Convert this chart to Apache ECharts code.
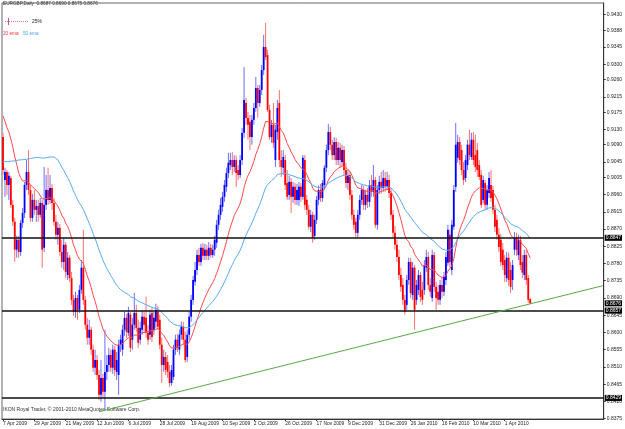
<!DOCTYPE html>
<html><head><meta charset="utf-8">
<script src="https://cdn.jsdelivr.net/npm/echarts@6/dist/echarts.min.js"></script>
<style>html,body{margin:0;padding:0;background:#fff}#c{width:625px;height:429px}</style>
</head><body><div id="c"></div>
<script>
// ---- data (prices in pips: 8847 => 0.8847) ----
const xTickLabels = ['7 Apr 2009','29 Apr 2009','21 May 2009','12 Jun 2009','6 Jul 2009','28 Jul 2009','19 Aug 2009','10 Sep 2009','2 Oct 2009','26 Oct 2009','17 Nov 2009','9 Dec 2009','31 Dec 2009','26 Jan 2010','16 Feb 2010','10 Mar 2010','1 Apr 2010'];
const yTickValues = [0.8375,0.8420,0.8465,0.8510,0.8555,0.8600,0.8645,0.8690,0.8735,0.8780,0.8825,0.8870,0.8915,0.8960,0.9005,0.9045,0.9090,0.9130,0.9175,0.9215,0.9260,0.9300,0.9345,0.9388,0.9430];

const openPips = [
9110,8998,9019,8985,9003,8933,8889,8816,8842,8810,
8886,8912,8985,9019,8972,8899,8946,8920,8930,8907,
8938,8821,8933,8972,8946,8977,8938,8889,8855,8873,
8810,8784,8829,8750,8795,8742,8685,8654,8690,8659,
8711,8769,8685,8620,8586,8607,8555,8508,8528,8489,
8437,8481,8445,8497,8515,8541,8508,8555,8497,8489,
8568,8555,8607,8638,8599,8646,8581,8620,8651,8612,
8581,8607,8641,8638,8599,8594,8651,8607,8628,8654,
8633,8568,8515,8536,8523,8497,8468,8484,8555,8581,
8555,8594,8615,8581,8536,8594,8641,8685,8732,8763,
8802,8784,8821,8800,8816,8800,8821,8802,8816,8834,
8881,8907,8928,8954,8980,9016,9037,9050,9032,9050,
9024,9011,9050,9121,9199,9160,9150,9110,9155,9186,
9238,9199,9233,9285,9345,9324,9181,9110,9142,9050,
9123,9199,9050,9030,9050,8990,8959,8993,8954,8980,
8946,8946,8980,8954,9050,8946,8920,8876,8907,8852,
8894,8946,8972,8951,8985,9030,9076,9123,9090,9063,
9097,9050,9082,9045,9076,9024,8990,9011,8959,8907,
8889,8860,8907,8946,8972,8933,8959,8941,8985,8967,
8998,8881,8972,8993,8977,9003,8980,8998,8964,8907,
8860,8829,8797,8750,8724,8685,8672,8737,8784,8698,
8769,8685,8711,8750,8711,8711,8769,8797,8724,8690,
8802,8719,8706,8685,8724,8706,8737,8782,8855,8763,
8876,8980,9056,9097,9076,9024,9003,9037,9090,9058,
9103,9063,9076,9037,9011,8946,8990,8933,8964,8985,
8972,8920,8894,8855,8842,8816,8789,8742,8795,8763,
8737,8816,8847,8802,8842,8784,8750,8802,8742,8687];

const closePips = [
9024,9019,8985,9009,8933,8889,8816,8842,8810,8886,
8912,8985,9019,8972,8899,8946,8920,8930,8907,8938,
8816,8933,8972,8946,8977,8938,8889,8855,8873,8810,
8784,8829,8758,8795,8742,8685,8654,8690,8659,8711,
8769,8685,8620,8586,8607,8555,8508,8528,8489,8437,
8481,8445,8497,8515,8541,8508,8555,8502,8528,8568,
8581,8607,8638,8602,8651,8560,8620,8651,8612,8573,
8612,8641,8620,8599,8581,8646,8588,8638,8659,8615,
8568,8515,8536,8502,8497,8468,8502,8555,8581,8560,
8594,8615,8581,8528,8594,8641,8685,8737,8763,8802,
8784,8821,8800,8816,8800,8821,8802,8816,8842,8881,
8907,8933,8954,8985,9016,9043,9050,9032,9050,9016,
9011,9050,9121,9207,9160,9142,9110,9155,9186,9238,
9199,9233,9285,9345,9319,9181,9110,9142,9095,9129,
9186,9050,9032,9058,8985,8954,8993,8954,8980,8946,
8972,8980,8954,9056,8933,8920,8876,8907,8847,8894,
8946,8972,8951,8990,9030,9076,9123,9090,9063,9097,
9050,9082,9050,9076,9024,8990,9011,8959,8907,8881,
8860,8907,8946,8972,8933,8959,8941,8985,8967,8998,
8881,8972,8993,8977,9003,8980,8998,8964,8907,8860,
8829,8797,8750,8719,8685,8654,8737,8784,8703,8769,
8659,8724,8750,8693,8685,8776,8797,8724,8706,8802,
8719,8690,8685,8724,8706,8745,8797,8868,8784,8881,
8972,9090,9097,9050,9024,8998,9050,9090,9063,9103,
9050,9032,9024,9006,8933,8998,8933,8972,9003,8951,
8920,8876,8855,8823,8784,8776,8750,8795,8737,8719,
8776,8849,8816,8842,8776,8756,8802,8737,8685,8676];

const highPips = [
9121,9030,9024,9019,9009,8946,8899,8852,8852,8894,
8925,8993,9050,9076,8985,8962,8972,8946,8946,8951,
8946,9032,9011,9030,9011,8988,8951,8907,8889,8883,
8842,8847,8836,8810,8802,8758,8698,8706,8698,8724,
8789,8868,8695,8638,8633,8615,8568,8555,8541,8502,
8528,8492,8607,8541,8560,8555,8568,8565,8549,8581,
8594,8620,8654,8648,8667,8654,8638,8703,8672,8633,
8628,8659,8654,8693,8620,8659,8664,8654,8675,8669,
8646,8586,8555,8549,8541,8515,8515,8568,8594,8596,
8607,8628,8628,8602,8607,8654,8698,8748,8784,8816,
8821,8831,8834,8831,8829,8836,8831,8829,8852,8894,
8920,8951,8967,8998,9030,9069,9069,9071,9063,9061,
9037,9063,9134,9293,9212,9176,9168,9168,9199,9267,
9246,9246,9298,9377,9408,9338,9194,9155,9199,9142,
9207,9233,9076,9076,9063,9024,9009,9003,8993,8990,
8988,8993,8990,9063,9063,8959,8933,8920,8915,8907,
8956,8983,8988,8998,9037,9090,9144,9137,9103,9110,
9108,9097,9095,9090,9087,9043,9024,9019,8972,8920,
8899,8920,8959,8985,8983,8972,8977,8998,9011,9037,
9006,8985,9009,9019,9024,9019,9019,9011,8977,8920,
8878,8842,8816,8769,8742,8698,8750,8795,8795,8784,
8776,8737,8763,8758,8732,8789,8816,8810,8742,8816,
8810,8732,8724,8737,8742,8758,8810,8881,8868,8894,
8985,9147,9116,9110,9090,9045,9063,9103,9129,9121,
9123,9116,9095,9050,9024,9009,8998,8985,9019,9024,
8983,8933,8907,8873,8857,8834,8802,8810,8808,8784,
8789,8862,8860,8855,8852,8802,8816,8816,8750,8690];

const lowPips = [
9011,8954,8959,8946,8925,8878,8784,8795,8795,8800,
8873,8899,8972,8959,8889,8889,8907,8889,8889,8899,
8769,8810,8920,8933,8936,8920,8878,8842,8829,8800,
8769,8763,8742,8737,8732,8672,8643,8638,8633,8651,
8701,8672,8607,8568,8568,8541,8497,8489,8476,8424,
8419,8429,8398,8476,8497,8497,8492,8487,8476,8437,
8549,8539,8591,8586,8591,8549,8555,8607,8602,8560,
8568,8594,8602,8586,8568,8581,8575,8594,8612,8607,
8555,8468,8497,8489,8481,8458,8461,8476,8541,8549,
8541,8581,8568,8521,8523,8581,8628,8672,8722,8750,
8774,8774,8789,8789,8789,8789,8795,8795,8800,8821,
8868,8894,8915,8941,8967,9003,9024,9011,9019,8980,
8998,9003,9037,9108,9142,9103,9076,9090,9142,9176,
9160,9189,9220,9272,9311,9176,9103,9095,9082,9032,
9103,9032,9006,9011,8972,8946,8946,8912,8938,8933,
8933,8930,8941,8946,8920,8907,8868,8862,8834,8842,
8883,8933,8941,8941,8972,9019,9063,9076,9050,9050,
9037,9037,9030,9035,9011,8977,8972,8946,8894,8868,
8847,8849,8894,8933,8920,8920,8925,8928,8954,8954,
8873,8868,8962,8962,8967,8967,8972,8951,8894,8847,
8816,8784,8737,8706,8672,8646,8659,8724,8690,8685,
8607,8672,8698,8680,8672,8698,8758,8711,8693,8680,
8706,8659,8672,8672,8690,8695,8724,8774,8769,8750,
8868,8967,9043,9037,9011,8985,8993,9024,9050,9050,
9037,9019,9006,8998,8925,8936,8920,8920,8951,8941,
8909,8862,8842,8810,8774,8763,8732,8732,8722,8703,
8711,8802,8800,8789,8763,8742,8737,8724,8677,8675];

// 50 ema as drawn at the left edge of the chart (bars 0..27)
const ema50HeadPips = [9045,9046,9046,9047,9047,9048,9048,9049,9050,9050,
9051,9051,9052,9053,9054,9055,9056,9057,9057,9056,
9055,9055,9056,9057,9058,9058,9058,9058];
const levelLines = [0.8847, 0.8657, 0.8429];
const lastPrice = 0.8676;
const trendLine = [[49, 0.8393], [306, 0.8722]];
const ema20Seed = 0.9165;
const PIP = 10000;
const totalSlots = 307;

// ---- build ----
const categories = [];
for (let i = 0; i < totalSlots; i++) categories.push(String(i));
const candles = openPips.map((o, i) => [i, o / PIP, closePips[i] / PIP, lowPips[i] / PIP, highPips[i] / PIP]);
const closes = closePips.map(c => c / PIP);
function emaFrom(vals, n, head) {
  const k = 2 / (n + 1); const out = head.slice(); let prev = out[out.length - 1];
  for (let i = out.length; i < vals.length; i++) { prev = prev + k * (vals[i] - prev); out.push(+prev.toFixed(5)); }
  return out;
}
const ema20 = emaFrom(closes, 20, [ema20Seed]);
const ema50 = emaFrom(closes, 50, ema50HeadPips.map(v => v / PIP));

function renderCandle(params, api) {
  const idx = api.value(0), o = api.value(1), c = api.value(2), l = api.value(3), h = api.value(4);
  const pO = api.coord([idx, o]), pC = api.coord([idx, c]);
  const pL = api.coord([idx, l]), pH = api.coord([idx, h]);
  const bull = c >= o;
  const x = pO[0];
  const top = Math.min(pO[1], pC[1]), bot = Math.max(pO[1], pC[1]);
  return {
    type: 'group',
    children: [
      { type: 'line', shape: { x1: x, y1: pH[1], x2: x, y2: pL[1] },
        style: { stroke: bull ? '#6f6fff' : '#ff6f6f', lineWidth: 1 } },
      { type: 'rect', shape: { x: x - 0.9, y: top, width: 1.8, height: Math.max(bot - top, 1) },
        style: { fill: bull ? '#0000ff' : '#ff0000' } }
    ]
  };
}

const tagLabel = { show: true, position: 'end', distance: 1, formatter: p => Number(p.value).toFixed(4),
  backgroundColor: '#000', color: '#fff', fontSize: 5, padding: [1, 1, 0, 1], fontFamily: 'Liberation Sans' };
const markData = levelLines.map(v => ({ yAxis: v, lineStyle: { color: '#111', width: 1.5, type: 'solid' }, label: tagLabel }));
markData.push({ yAxis: lastPrice, lineStyle: { color: 'rgba(0,0,0,0)', width: 1 }, label: tagLabel });
markData.push([
  { coord: [String(trendLine[0][0]), trendLine[0][1]], lineStyle: { color: '#55aa44', width: 1, type: 'solid' }, label: { show: false } },
  { coord: [String(trendLine[1][0]), trendLine[1][1]] }
]);

const isTick = idx => idx % 16 === 0 && idx / 16 < xTickLabels.length;
const chart = echarts.init(document.getElementById('c'), null, { renderer: 'canvas' });
chart.setOption({
  animation: false,
  backgroundColor: '#fff',
  grid: { left: 1, right: 19, top: 3, bottom: 10, show: true, borderColor: '#666', borderWidth: 1 },
  xAxis: {
    type: 'category', data: categories, boundaryGap: true,
    axisLine: { show: true, lineStyle: { color: '#333', width: 1 } },
    axisTick: { show: true, interval: isTick, length: 2, alignWithLabel: true, lineStyle: { color: '#333' } },
    axisLabel: { interval: isTick, formatter: (v) => xTickLabels[Math.round(+v / 16)] || '', align: 'left',
      fontSize: 4.9, margin: 2, color: '#222', fontFamily: 'Liberation Sans' },
    splitLine: { show: false }
  },
  yAxis: {
    type: 'value', position: 'right', min: 0.8374, max: 0.9460,
    axisLine: { show: true, lineStyle: { color: '#333', width: 1 } },
    axisTick: { show: true, customValues: yTickValues, length: 2, lineStyle: { color: '#333' } },
    axisLabel: { customValues: yTickValues, formatter: v => v.toFixed(4), fontSize: 5, margin: 3, color: '#222', fontFamily: 'Liberation Sans' },
    splitLine: { show: false }
  },
  series: [
    { type: 'custom', data: candles, renderItem: renderCandle, silent: true,
      encode: { x: 0, y: [1, 2, 3, 4] } },
    { type: 'line', name: '20 ema', data: ema20, showSymbol: false, silent: true,
      lineStyle: { color: '#ff4a4a', width: 1 } },
    { type: 'line', name: '50 ema', data: ema50, showSymbol: false, silent: true,
      lineStyle: { color: '#5aaaf5', width: 1 },
      markLine: { symbol: ['none', 'none'], silent: true, animation: false, precision: 4, data: markData } }
  ],
  graphic: [
    { type: 'text', left: 3, top: 1, style: { text: 'EURGBP,Daily  0.8687 0.8690 0.8675 0.8676', fontSize: 4.7, fill: '#333', fontFamily: 'Liberation Sans' } },
    { type: 'line', shape: { x1: 5, y1: 21.5, x2: 29, y2: 21.5 }, style: { stroke: '#e070b0', lineWidth: 1, lineDash: [1, 1] } },
    { type: 'line', shape: { x1: 8.5, y1: 18, x2: 8.5, y2: 25 }, style: { stroke: '#c05090', lineWidth: 1 } },
    { type: 'text', left: 32, top: 19, style: { text: '25%', fontSize: 5, fill: '#222', fontFamily: 'Liberation Sans' } },
    { type: 'text', left: 3, top: 31, style: { text: '20 ema', fontSize: 4.7, fill: '#ff3030', fontFamily: 'Liberation Sans' } },
    { type: 'text', left: 23, top: 31, style: { text: '50 ema', fontSize: 4.7, fill: '#4a9ff5', fontFamily: 'Liberation Sans' } },
    { type: 'text', left: 3, top: 407, style: { text: 'IKON Royal Trader, © 2001-2010 MetaQuotes Software Corp.', fontSize: 5, fill: '#333', fontFamily: 'Liberation Sans' } }
  ]
});
</script>
</body></html>
